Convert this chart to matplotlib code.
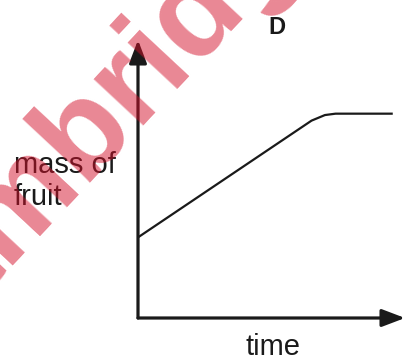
import numpy as np
import matplotlib.pyplot as plt

# mass of fruit over time (arbitrary units)
time = [0.0, 6.5, 7.0, 7.4, 9.5]
mass = [2.9, 7.1, 7.3, 7.35, 7.35]

title = 'D'
xlabel = 'time'
ylabel = 'mass of\nfruit'
watermark = 'Cambridge'

plt.rcParams['font.family'] = ['Liberation Sans', 'DejaVu Sans']

fig = plt.figure(figsize=(4.05, 3.61), dpi=100)
ax = fig.add_axes([138 / 405, 43 / 361, 267 / 405, 278 / 361])
ax.set_xlim(0, 10)
ax.set_ylim(0, 10)
ax.axis('off')

# curve
ax.plot(time, mass, color='#1a1a1a', lw=1.6, solid_joinstyle='round')

# axes drawn as arrows
arrow = dict(arrowstyle='-|>,head_length=1.0,head_width=0.38', color='#1a1a1a',
             lw=2.3, shrinkA=0, shrinkB=0, mutation_scale=14)
ax.annotate('', xy=(1.0, 0), xytext=(0, 0), xycoords='axes fraction',
            arrowprops=arrow, annotation_clip=False)
ax.annotate('', xy=(0, 1.0), xytext=(0, 0), xycoords='axes fraction',
            arrowprops=arrow, annotation_clip=False)

# labels
fig.text(277 / 405, 1 - 27 / 361, title, fontsize=17, fontweight='bold',
         ha='center', va='center', color='#1a1a1a')
fig.text(273 / 405, 1 - 347 / 361, xlabel, fontsize=21, ha='center', va='center',
         color='#1a1a1a')
fig.text(14 / 405, 1 - 181 / 361, ylabel, fontsize=21, ha='left', va='center',
         color='#1a1a1a', linespacing=1.2)

# red watermark on top
fig.text(-105 / 405, 1 - 387 / 361, watermark, fontsize=92, fontweight='bold',
         color='#d4102a', alpha=0.5, rotation=47, rotation_mode='anchor',
         ha='left', va='baseline', zorder=10)

fig.savefig('out.png', dpi=100)
